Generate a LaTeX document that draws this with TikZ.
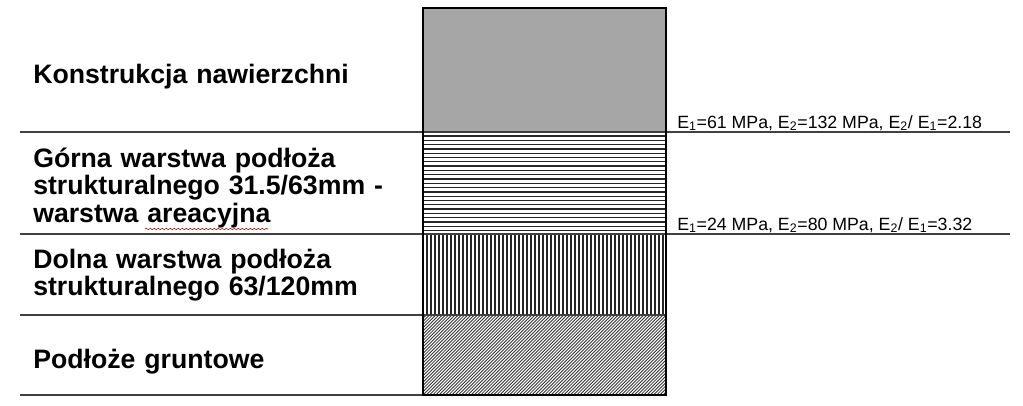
\documentclass[tikz,border=0pt]{standalone}
\usepackage{fontspec}
\setmainfont{Liberation Sans}
\usetikzlibrary{decorations.pathmorphing}

\begin{document}
\begin{tikzpicture}[x=0.75pt, y=-0.75pt,
        warstwa/.style={anchor=base west, inner sep=0pt, text width=390pt, align=left,
            font=\fontsize{20}{20.8}\selectfont\bfseries},
        modul/.style={anchor=base west, inner sep=0pt, font=\fontsize{13.3}{16}\selectfont},
        granica/.style={draw=black!75, line width=1.5pt},
        kreska/.style={draw=black!85, line width=1pt}]
        \useasboundingbox (0, 0) rectangle (1023, 405);
        % warstwy w kolumnie
        \fill[black!35] (423, 8) rectangle (666, 132);
        \begin{scope}
            \clip (423, 132) rectangle (666, 234);
            \foreach \y in {136, 140.3, ..., 234}
                \draw[kreska] (423, \y) -- (666, \y);
        \end{scope}
        \foreach \x in {427, 431, ..., 664}
            \draw[kreska] (\x, 234) -- (\x, 315);
        \begin{scope}
            \clip (423, 315) rectangle (666, 395);
            \foreach \s in {0, 3.2, ..., 330}
                \draw[draw=black!80, line width=0.65pt] (423 + \s - 80, 395) -- (423 + \s, 315);
        \end{scope}
        % granice
        \draw[granica] (20, 132) -- (1010, 132);
        \draw[granica] (20, 234) -- (1010, 234);
        \draw[granica] (20, 315) -- (666, 315);
        \draw[granica] (20, 395) -- (666, 395);
        \draw[line width=1.5pt] (423, 8) rectangle (666, 395);
        % opisy
        \node[warstwa] (konstrukcja) at (33, 83) {Konstrukcja nawierzchni};
        \node[warstwa] (gorna) at (33, 167) {Górna warstwa podłoża\\strukturalnego 31.5/63mm -\\warstwa areacyjna};
        \node[warstwa] (dolna) at (33, 268) {Dolna warstwa podłoża\\strukturalnego 63/120mm};
        \node[warstwa] (grunt) at (33, 368) {Podłoże gruntowe};
        \node[modul] (modul1) at (677, 128) {E\textsubscript{1}=61 MPa, E\textsubscript{2}=132 MPa, E\textsubscript{2}/ E\textsubscript{1}=2.18};
        \node[modul] (modul2) at (677, 230) {E\textsubscript{1}=24 MPa, E\textsubscript{2}=80 MPa, E\textsubscript{2}/ E\textsubscript{1}=3.32};
        \draw[red!70!black, decorate, decoration={snake, amplitude=0.5pt, segment length=3pt}] (145, 229) -- (268, 229);
    \end{tikzpicture}
\end{document}
